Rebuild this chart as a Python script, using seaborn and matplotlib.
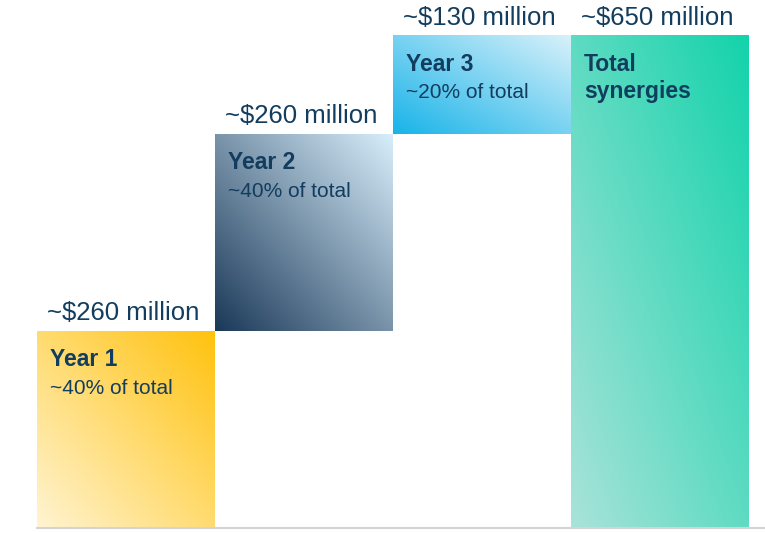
import numpy as np
import pandas as pd
import seaborn as sns
import matplotlib.pyplot as plt
from matplotlib.colors import to_rgb

# data
steps = ['Year 1', 'Year 2', 'Year 3', 'Total synergies']
values = [260, 260, 130, 650]
bottoms = [0, 260, 520, 0]
value_labels = ['~$260 million', '~$260 million', '~$130 million', '~$650 million']
line1 = ['Year 1', 'Year 2', 'Year 3', 'Total']
line2 = ['~40% of total', '~40% of total', '~20% of total', 'synergies']
line2_bold = [False, False, False, True]

# gradient ends: bottom-left -> top-right
grad_bl = ['#fff4d2', '#1a3858', '#18b3e9', '#a9e3d9']
grad_tr = ['#ffc20e', '#d8eefb', '#d8f1fa', '#13d3ab']
navy = '#123d5e'

sns.set_theme(style='white')
plt.rcParams['font.family'] = ['Liberation Sans', 'DejaVu Sans']

fig = plt.figure(figsize=(7.65, 5.33), dpi=100)
ax = fig.add_axes([37 / 765, 5 / 533, 728 / 765, 528 / 533])

df = pd.DataFrame({'step': steps, 'value': values})
sns.barplot(data=df, x='step', y='value', order=steps, width=1.0,
            color='#cccccc', ax=ax, linewidth=0)

xx, yy = np.meshgrid(np.linspace(0, 1, 200), np.linspace(0, 1, 200))
t = (xx + yy) / 2

for i, p in enumerate(ax.patches):
    p.set_y(bottoms[i])
    x0, w, h = p.get_x(), p.get_width(), p.get_height()
    y0 = bottoms[i]
    c0 = np.array(to_rgb(grad_bl[i]))
    c1 = np.array(to_rgb(grad_tr[i]))
    img = c0 + (c1 - c0) * t[..., None]
    ax.imshow(img, extent=[x0, x0 + w, y0, y0 + h], origin='lower',
              aspect='auto', zorder=2, interpolation='bilinear')
    top = y0 + h
    cx = x0 + w / 2
    ax.annotate(value_labels[i], (cx, top), xytext=(-2, 8),
                textcoords='offset points', ha='center', va='baseline',
                fontsize=18.5, color=navy)
    ax.annotate(line1[i], (x0, top), xytext=(9.5, -25),
                textcoords='offset points', ha='left', va='baseline',
                fontsize=16.5, fontweight='bold', color=navy, zorder=3)
    ax.annotate(line2[i], (x0, top), xytext=(9.5, -45),
                textcoords='offset points', ha='left', va='baseline',
                fontsize=16.5 if line2_bold[i] else 15,
                fontweight='bold' if line2_bold[i] else 'normal',
                color=navy, zorder=3)

ax.set_xlim(-0.5, 3.59)
ax.set_ylim(0, 650 * 528 / 492)
ax.set_xlabel('')
ax.set_ylabel('')
ax.set_xticks([])
ax.set_yticks([])
for s in ['top', 'right', 'left']:
    ax.spines[s].set_visible(False)
ax.spines['bottom'].set_color('#d4d4d4')
ax.spines['bottom'].set_linewidth(1.5)

fig.savefig('out.png', dpi=100)
